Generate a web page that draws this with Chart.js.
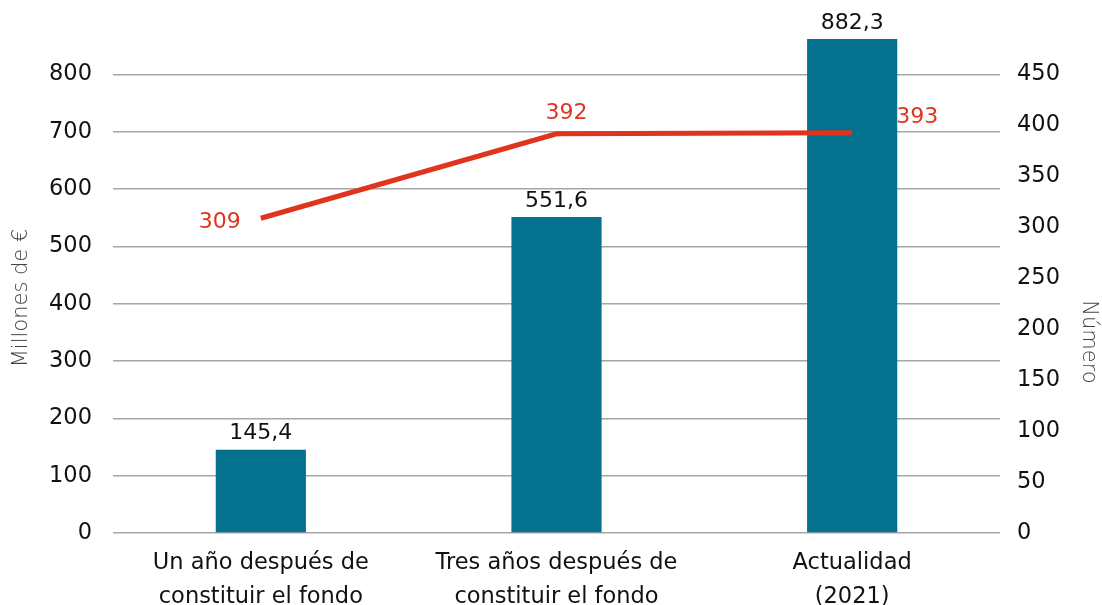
<!DOCTYPE html>
<html>
<head>
<meta charset="utf-8">
<script src="https://cdn.jsdelivr.net/npm/chart.js@4"></script>
<style>
  html, body { margin: 0; padding: 0; background: #fff; }
  #wrap { width: 1102px; height: 605px; }
</style>
</head>
<body>
<div id="wrap"><canvas id="chart"></canvas></div>
<script>
var categories = [
  ['Un año después de', 'constituir el fondo'],
  ['Tres años después de', 'constituir el fondo'],
  ['Actualidad', '(2021)']
];
var importe = [145.4, 551.6, 882.3];   // Millones de €
var numero = [309, 392, 393];          // Número
var leftTicks = [0, 100, 200, 300, 400, 500, 600, 700, 800];
var rightTicks = [0, 50, 100, 150, 200, 250, 300, 350, 400, 450];

var FONT = "'DejaVu Sans', sans-serif";
var BAR = '#04728F';
var RED = '#E1341E';

function keepTicks(list) {
  return function (scale) {
    scale.ticks = scale.ticks.filter(function (t) { return list.indexOf(t.value) >= 0; });
  };
}

// value labels + axis titles
var valueLabels = {
  id: 'valueLabels',
  afterDatasetsDraw: function (chart) {
    var ctx = chart.ctx;
    ctx.save();
    ctx.font = '22px ' + FONT;

    var bars = chart.getDatasetMeta(0).data;
    ctx.fillStyle = '#111';
    ctx.textAlign = 'center';
    ctx.textBaseline = 'bottom';
    bars.forEach(function (b, i) {
      var top = Math.max(b.y, chart.chartArea.top);
      ctx.fillText(importe[i].toFixed(1).replace('.', ','), b.x, top - 5);
    });

    var pts = chart.getDatasetMeta(1).data;
    ctx.fillStyle = RED;
    ctx.textBaseline = 'middle';
    var place = ['left', 'top', 'right'];
    pts.forEach(function (p, i) {
      var txt = String(numero[i]);
      if (place[i] === 'left') {
        ctx.textAlign = 'right';
        ctx.fillText(txt, p.x - 20, p.y + 4);
      } else if (place[i] === 'top') {
        ctx.textAlign = 'center';
        ctx.fillText(txt, p.x + 10, p.y - 20);
      } else {
        ctx.textAlign = 'left';
        ctx.fillText(txt, p.x + 44, p.y - 15);
      }
    });

    // axis titles
    ctx.fillStyle = '#444';
    ctx.font = '300 21px ' + FONT;
    ctx.textAlign = 'center';
    ctx.textBaseline = 'middle';
    ctx.save();
    ctx.translate(22, 298);
    ctx.rotate(-Math.PI / 2);
    ctx.fillText('Millones de €', 0, 0);
    ctx.restore();
    ctx.save();
    ctx.translate(1088, 342);
    ctx.rotate(Math.PI / 2);
    ctx.fillText('Número', 0, 0);
    ctx.restore();

    ctx.restore();
  }
};

new Chart(document.getElementById('chart'), {
  data: {
    labels: categories,
    datasets: [{
      type: 'bar',
      label: 'Millones de €',
      data: importe,
      backgroundColor: BAR,
      barPercentage: 0.61,
      categoryPercentage: 0.5,
      yAxisID: 'y',
      order: 2
    }, {
      type: 'line',
      label: 'Número',
      data: numero,
      borderColor: RED,
      backgroundColor: RED,
      borderWidth: 5,
      pointRadius: 0,
      tension: 0,
      yAxisID: 'y1',
      order: 1
    }]
  },
  options: {
    responsive: true,
    maintainAspectRatio: false,
    animation: false,
    layout: { padding: { top: 39, left: 0, right: 0, bottom: 0 } },
    plugins: {
      legend: { display: false },
      tooltip: { enabled: false }
    },
    scales: {
      x: {
        grid: { display: false },
        border: { display: false },
        ticks: {
          color: '#111',
          font: { family: FONT, size: 22.5, lineHeight: 1.48 },
          padding: 6,
          maxRotation: 0
        },
        afterFit: function (s) { s.height = 72; }
      },
      y: {
        position: 'left',
        min: 0,
        max: 862,
        afterBuildTicks: keepTicks(leftTicks),
        grid: { color: '#A6A6A6', lineWidth: 1.5, drawTicks: false },
        border: { display: false },
        ticks: {
          stepSize: 100,
          color: '#111',
          padding: 21,
          font: { family: FONT, size: 22.5 }
        },
        afterFit: function (s) { s.width = 113; }
      },
      y1: {
        position: 'right',
        min: 0,
        max: 485,
        afterBuildTicks: keepTicks(rightTicks),
        grid: { display: false, drawTicks: false },
        border: { display: false },
        ticks: {
          stepSize: 50,
          color: '#111',
          padding: 17,
          font: { family: FONT, size: 22.5 }
        },
        afterFit: function (s) { s.width = 102; }
      }
    }
  },
  plugins: [valueLabels]
});
</script>
</body>
</html>
